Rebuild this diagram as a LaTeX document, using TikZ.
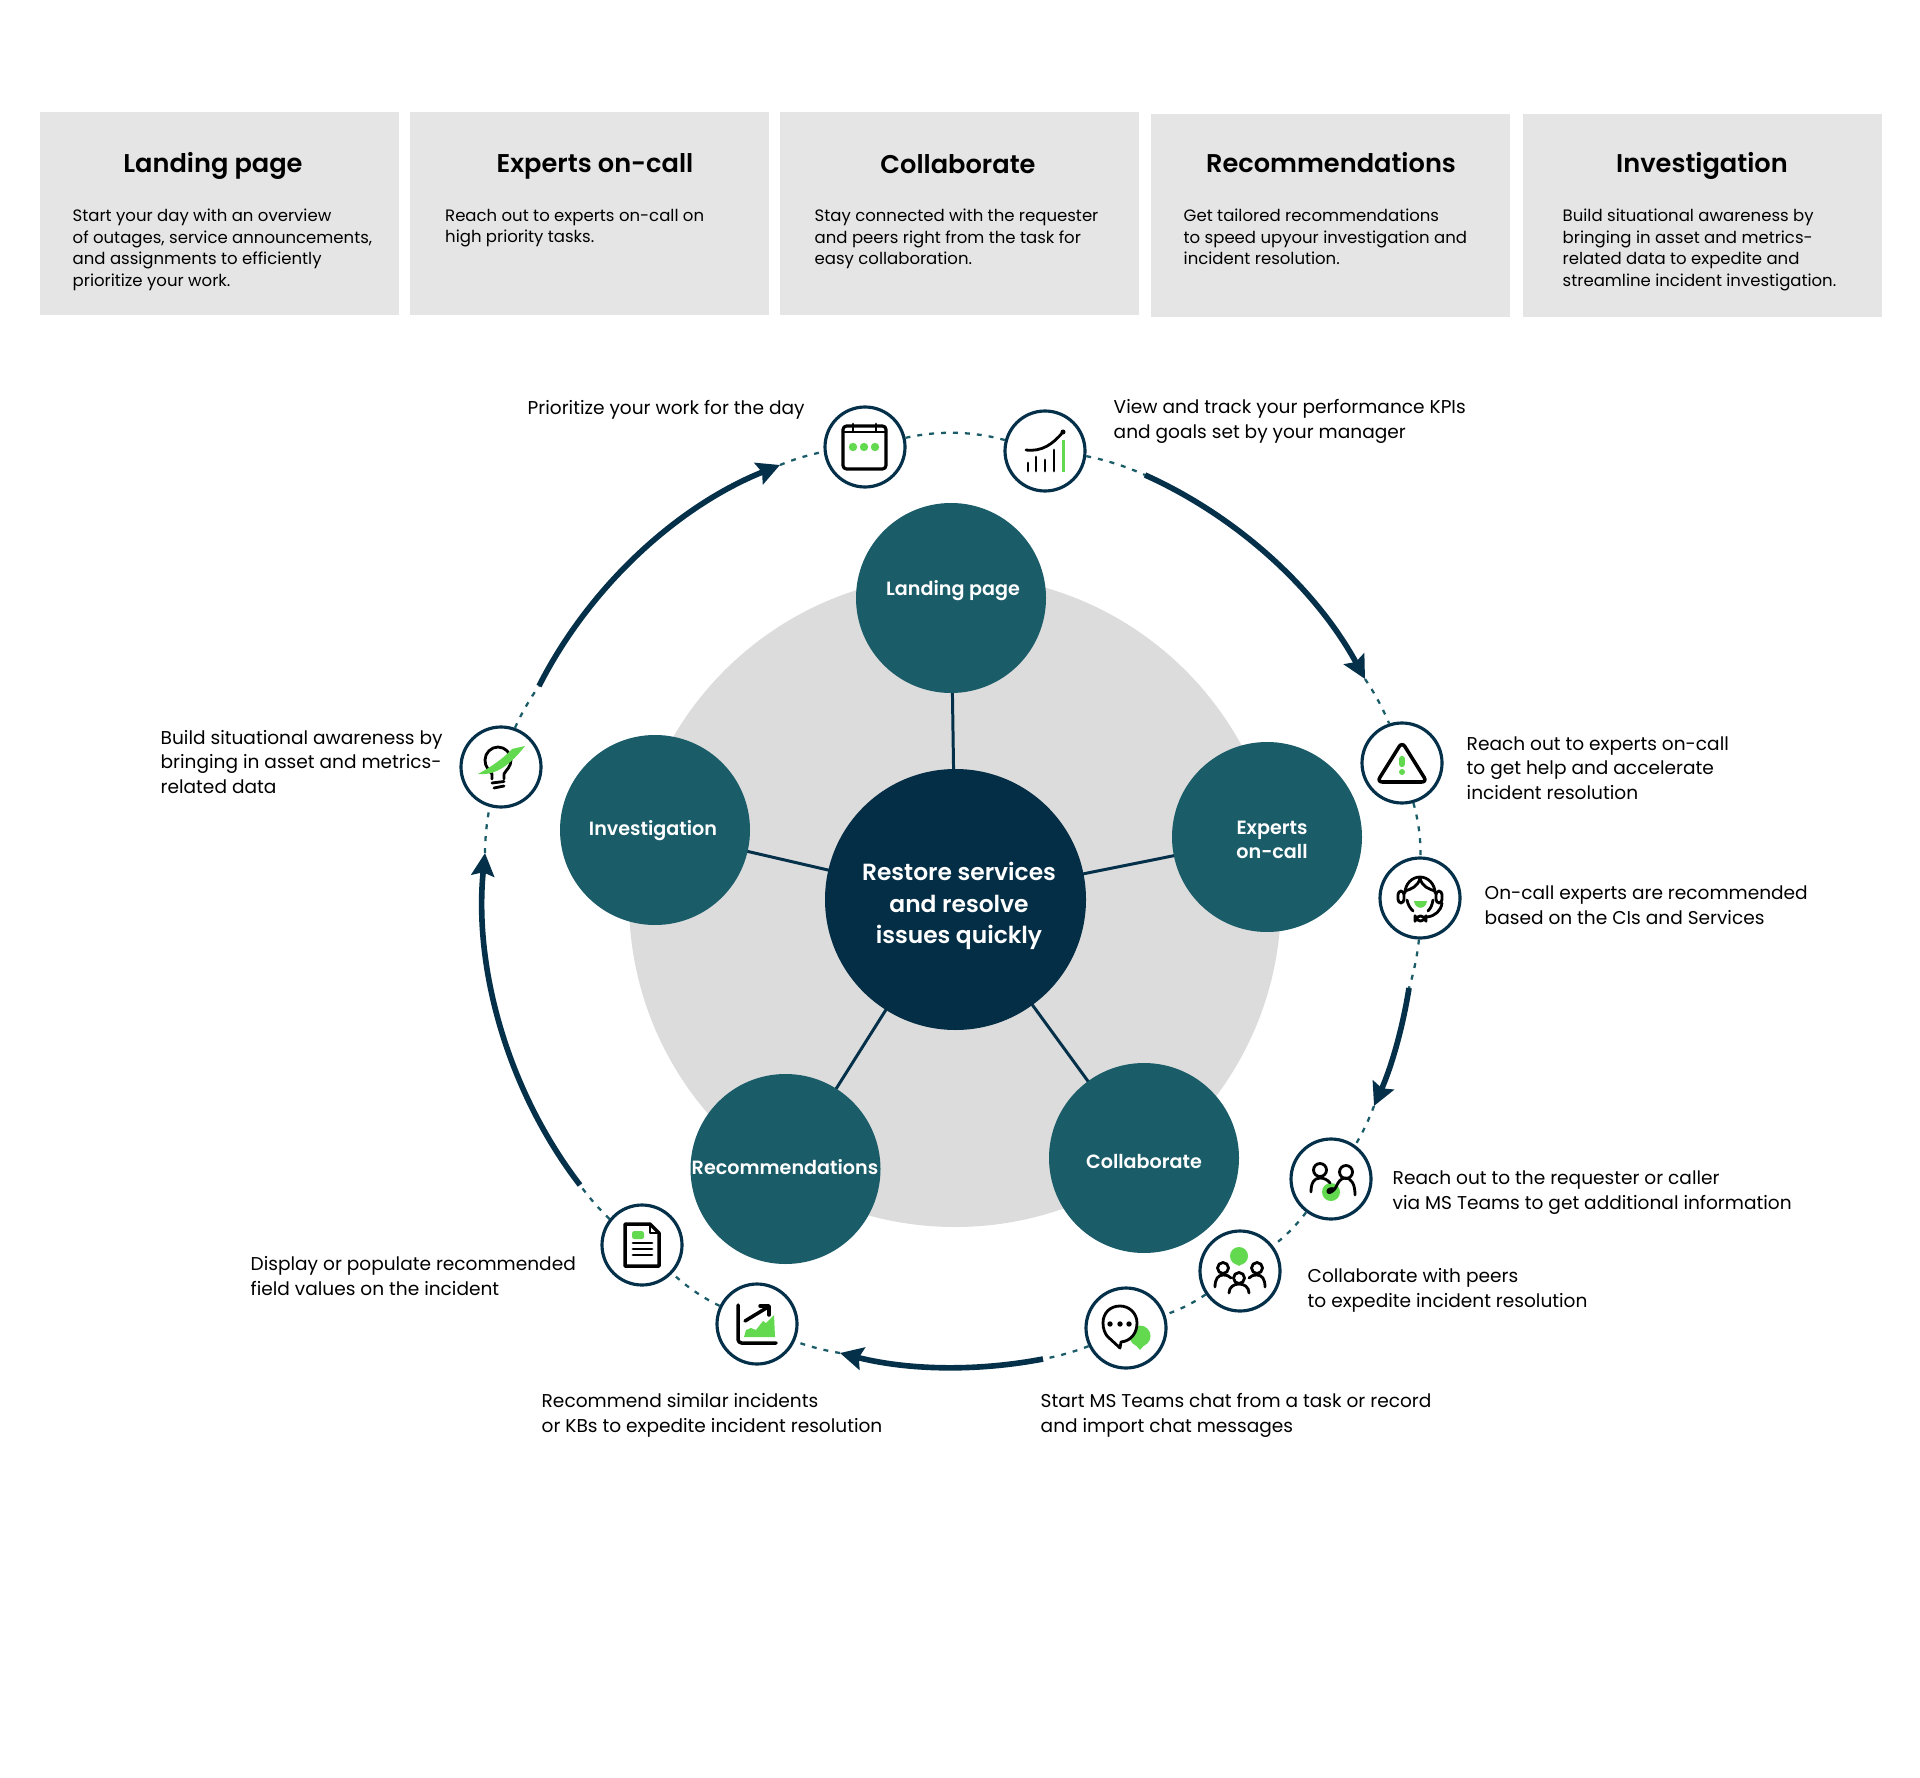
\documentclass[tikz,border=0pt]{standalone}
\usepackage{fontspec}
\setmainfont{Poppins}[BoldFont={Poppins SemiBold}]
\usetikzlibrary{arrows.meta,backgrounds}

\definecolor{hubblue}{HTML}{042E45}
\definecolor{topicteal}{HTML}{1B5C69}
\definecolor{iconink}{HTML}{04304A}
\definecolor{leaf}{HTML}{62D94F}
\definecolor{cardgrey}{HTML}{E5E5E5}
\definecolor{discgrey}{HTML}{DCDCDC}

\tikzset{
    card/.style={fill=cardgrey, anchor=north west, minimum width=3.59cm, minimum height=2.03cm, inner sep=0},
    cardtitle/.style={font=\fontsize{7.3}{9}\selectfont\bfseries, anchor=base, inner sep=0},
    cardtext/.style={font=\fontsize{4.7}{6.1}\selectfont, align=left, anchor=north west, inner sep=0},
    topic/.style={circle, fill=topicteal, minimum size=1.9cm, inner sep=0},
    topictext/.style={text=white, font=\fontsize{5.45}{7}\selectfont\bfseries, align=center, inner sep=0},
    badge/.style={circle, draw=iconink, line width=0.9pt, fill=white, minimum size=0.8cm, inner sep=0},
    note/.style={font=\fontsize{5.28}{6.97}\selectfont, align=left, anchor=west, inner sep=0},
    spoke/.style={draw=iconink, line width=0.85pt},
    link/.style={draw=topicteal, line width=0.65pt, dash pattern=on 1.4pt off 2pt, looseness=0.87},
    flow/.style={draw=iconink, line width=1.6pt, looseness=0.87, -{Stealth[length=6.5pt,width=6.5pt,inset=1pt]}},
    iconpx/.style={x=0.1mm, y=-0.1mm},
    ink/.style={draw=black, line width=0.8pt, line cap=round, line join=round},
}

\begin{document}
\begin{tikzpicture}
    \useasboundingbox (0,0) rectangle (19.2,17.77);

    % Cards
    \node[card] (cardlanding) at (0.39,16.66) {};
    \node[card] (cardexperts) at (4.09,16.66) {};
    \node[card] (cardcollab) at (7.79,16.66) {};
    \node[card] (cardrecs) at (11.50,16.64) {};
    \node[card] (cardinvest) at (15.22,16.64) {};

    \node[cardtitle] (titlelanding) at (2.13,16.04) {Landing page};
    \node[cardtitle] (titleexperts) at (5.95,16.04) {Experts on-call};
    \node[cardtitle] (titlecollab) at (9.58,16.03) {Collaborate};
    \node[cardtitle] (titlerecs) at (13.31,16.04) {Recommendations};
    \node[cardtitle] (titleinvest) at (17.02,16.04) {Investigation};

    \node[cardtext] (textlanding) at (0.72,15.685) {Start your day with an overview\\of outages, service announcements,\\and assignments to efficiently\\prioritize your work.};
    \node[cardtext] (textexperts) at (4.445,15.685) {Reach out to experts on-call on\\high priority tasks.};
    \node[cardtext] (textcollab) at (8.14,15.685) {Stay connected with the requester\\and peers right from the task for\\easy collaboration.};
    \node[cardtext] (textrecs) at (11.83,15.685) {Get tailored recommendations\\to speed upyour investigation and\\incident resolution.};
    \node[cardtext] (textinvest) at (15.62,15.685) {Build situational awareness by\\bringing in asset and metrics-\\related data to expedite and\\streamline incident investigation.};

    % Centre
    \node[circle, fill=hubblue, minimum size=2.61cm, inner sep=0] (hub) at (9.555,8.775) {};
    \node[text=white, align=center, inner sep=0, font=\fontsize{6.65}{9}\selectfont\bfseries] (hubtext) at (9.59,8.71) {Restore services\\and resolve\\issues quickly};

    \node[topic] (landing) at (9.51,11.79) {};
    \node[topic] (experts) at (12.67,9.40) {};
    \node[topic] (collab) at (11.44,6.19) {};
    \node[topic] (recs) at (7.855,6.08) {};
    \node[topic] (invest) at (6.55,9.47) {};

    \node[topictext] (landingtext) at (9.53,11.86) {Landing page};
    \node[topictext] (expertstext) at (12.72,9.37) {Experts\\on-call};
    \node[topictext] (collabtext) at (11.44,6.16) {Collaborate};
    \node[topictext] (recstext) at (7.85,6.10) {Recommendations};
    \node[topictext] (investtext) at (6.53,9.46) {Investigation};

    \begin{scope}[on background layer]
        \fill[discgrey] (9.55,8.76) circle (3.26);
        \draw[spoke] (hub.center) -- (landing.center);
        \draw[spoke] (hub.center) -- (experts.center);
        \draw[spoke] (hub.center) -- (collab.center);
        \draw[spoke] (hub.center) -- (recs.center);
        \draw[spoke] (hub.center) -- (invest.center);
    \end{scope}

    % Ring
    \node[badge] (calendar) at (8.65,13.30) {};
    \node[badge] (chart) at (10.45,13.26) {};
    \node[badge] (warning) at (14.02,10.14) {};
    \node[badge] (headset) at (14.20,8.79) {};
    \node[badge] (handshake) at (13.31,5.98) {};
    \node[badge] (peers) at (12.40,5.06) {};
    \node[badge] (chat) at (11.26,4.49) {};
    \node[badge] (graph) at (7.57,4.53) {};
    \node[badge] (doc) at (6.42,5.32) {};
    \node[badge] (bulb) at (5.01,10.10) {};

    \coordinate (flowas) at (11.45,13.02);
    \coordinate (flowae) at (13.65,10.98);
    \coordinate (flowbs) at (14.09,7.89);
    \coordinate (flowbe) at (13.74,6.71);
    \coordinate (flowcs) at (10.43,4.18);
    \coordinate (flowce) at (8.40,4.24);
    \coordinate (flowds) at (5.80,5.92);
    \coordinate (flowde) at (4.85,9.24);
    \coordinate (flowes) at (5.39,10.91);
    \coordinate (flowee) at (7.80,13.12);

    \draw[link] (calendar) to[bend left=14] (chart);
    \draw[link] (chart) to[bend left=6.4] (flowas);
    \draw[link] (flowae) to[bend left=5.7] (warning);
    \draw[link] (warning) to[bend left=8.3] (headset);
    \draw[link] (headset) to[bend left=5.5] (flowbs);
    \draw[link] (flowbe) to[bend left=5.1] (handshake);
    \draw[link] (handshake) to[bend left=7.9] (peers);
    \draw[link] (peers) to[bend left=7.8] (chat);
    \draw[link] (chat) to[bend left=5.4] (flowcs);
    \draw[link] (flowce) to[bend left=5.3] (graph);
    \draw[link] (graph) to[bend left=8.6] (doc);
    \draw[link] (doc) to[bend left=5.3] (flowds);
    \draw[link] (flowde) to[bend left=5.3] (bulb);
    \draw[link] (bulb) to[bend left=5.5] (flowes);
    \draw[link] (flowee) to[bend left=5.4] (calendar);

    \draw[flow] (flowas) to[bend left=18.6] (flowae);
    \draw[flow] (flowbs) to[bend left=7.5] (flowbe);
    \draw[flow] (flowcs) to[bend left=12.5] (flowce);
    \draw[flow] (flowds) to[bend left=21.6] (flowde);
    \draw[flow] (flowes) to[bend left=20.6] (flowee);

    % Notes
    \node[note] (notecalendar) at (5.27,13.675) {Prioritize your work for the day};
    \node[note] (notechart) at (11.13,13.555) {View and track your performance KPIs\\and goals set by your manager};
    \node[note] (notewarning) at (14.66,10.09) {Reach out to experts on-call\\to get help and accelerate\\incident resolution};
    \node[note] (noteheadset) at (14.84,8.72) {On-call experts are recommended\\based on the CIs and Services};
    \node[note] (notehandshake) at (13.92,5.845) {Reach out to the requester or caller\\via MS Teams to get additional information};
    \node[note] (notepeers) at (13.07,4.865) {Collaborate with peers\\to expedite incident resolution};
    \node[note] (notechat) at (10.40,3.615) {Start MS Teams chat from a task or record\\and import chat messages};
    \node[note] (notegraph) at (5.41,3.615) {Recommend similar incidents\\or KBs to expedite incident resolution};
    \node[note] (notedoc) at (2.50,5.01) {Display or populate recommended\\field values on the incident};
    \node[note] (notebulb) at (1.60,10.15) {Build situational awareness by\\bringing in asset and metrics-\\related data};

    % Icons
    \begin{scope}[shift={(calendar)}, iconpx]
        \draw[ink, line width=0.9pt, rounded corners=1pt] (-22,-21) rectangle (21,22);
        \draw[ink] (-22,-15) -- (21,-15);
        \draw[ink] (-12,-23) -- (-12,-16);
        \draw[ink] (11,-23) -- (11,-16);
        \fill[leaf, rounded corners=1pt] (-16,-4) rectangle (-8,4);
        \fill[leaf, rounded corners=1pt] (-5,-4) rectangle (3,4);
        \fill[leaf, rounded corners=1pt] (6,-4) rectangle (14,4);
    \end{scope}

    \begin{scope}[shift={(chart)}, iconpx]
        \draw[ink] (-17,20) -- (-17,12);
        \draw[ink] (-9,20) -- (-9,6);
        \draw[ink] (0,20) -- (0,9);
        \draw[ink] (9,20) -- (9,-1);
        \fill[leaf] (16.5,-11) rectangle (19.5,21);
        \draw[ink] (-19,-1) .. controls (-3,1) and (8,-7) .. (18,-19);
        \fill[black] (18,-19) circle (2.5);
    \end{scope}

    \begin{scope}[shift={(warning)}, iconpx]
        \draw[ink, line width=1pt, rounded corners=1.5pt] (0,-21) -- (25,19) -- (-25,19) -- cycle;
        \draw[leaf, line width=1.8pt, line cap=round] (0,-4) -- (0,1);
        \fill[leaf] (0,9) circle (3);
    \end{scope}

    \begin{scope}[shift={(headset)}, iconpx]
        \draw[ink] (-15,-5) .. controls (-15,-14) and (-8,-21) .. (0,-21) .. controls (8,-21) and (15,-14) .. (15,-5);
        \draw[ink] (0,-20) .. controls (-2,-11) and (-9,-9) .. (-15,-7);
        \draw[ink] (0,-20) .. controls (2,-11) and (9,-9) .. (15,-7);
        \draw[ink] (-13,2) .. controls (-12,7) and (-10,10) .. (-7,13);
        \draw[ink] (13,2) .. controls (12,7) and (11,10) .. (8,13);
        \draw[ink, rounded corners=1pt] (-22,-7) rectangle (-16,5);
        \draw[ink, rounded corners=1pt] (16,-7) rectangle (22,5);
        \draw[ink] (22,5) .. controls (21,13) and (15,18) .. (7,19);
        \draw[ink, rounded corners=1.5pt] (-5,18) rectangle (6,23);
        \fill[leaf] (-6,3) .. controls (-5,12) and (6,12) .. (7,3) -- cycle;
    \end{scope}

    \begin{scope}[shift={(handshake)}, iconpx]
        \fill[leaf] (0,13) circle (9);
        \draw[ink] (-11,-9) circle (6.5);
        \draw[ink] (15,-7) circle (6.5);
        \draw[ink] (-20,13) .. controls (-20,4) and (-17,-1) .. (-11,-1) .. controls (-7,-1) and (-3,1) .. (-1,4);
        \draw[ink] (24,16) .. controls (24,6) and (21,-1) .. (14,-1) .. controls (10,-1) and (7,3) .. (5,8) .. controls (3,12) and (-2,15) .. (-3,13) .. controls (-4,10) and (0,9) .. (4,10);
    \end{scope}

    \begin{scope}[shift={(peers)}, iconpx]
        \fill[leaf] (-1,-15) circle (9);
        \fill[leaf] (-1,-5) -- (-6,-9) -- (4,-9) -- cycle;
        \draw[ink] (-17,-3) circle (5.5);
        \draw[ink] (17,-3) circle (5.5);
        \draw[ink] (-1,7) circle (5.5);
        \draw[ink] (-25,16) .. controls (-25,8) and (-22,4) .. (-17,4) .. controls (-13,4) and (-11,5) .. (-9,7);
        \draw[ink] (25,16) .. controls (25,8) and (22,4) .. (17,4) .. controls (13,4) and (11,5) .. (9,7);
        \draw[ink] (-11,22) .. controls (-11,16) and (-6,13) .. (-1,13) .. controls (4,13) and (9,16) .. (9,22);
    \end{scope}

    \begin{scope}[shift={(chat)}, iconpx]
        \fill[leaf] (14,8) circle (10.5);
        \fill[leaf] (14,22) -- (8,15) -- (20,15) -- cycle;
        \draw[ink, fill=white] (-6,20) -- (-5,14) .. controls (5,13) and (11,5) .. (11,-5) .. controls (11,-15) and (3,-22) .. (-6,-22) .. controls (-16,-22) and (-23,-15) .. (-23,-5) .. controls (-23,1) and (-21,5) .. (-19,8) -- cycle;
        \fill[black] (-16,-4) circle (2.7);
        \fill[black] (-6,-4) circle (2.7);
        \fill[black] (3,-4) circle (2.7);
    \end{scope}

    \begin{scope}[shift={(graph)}, iconpx]
        \fill[leaf] (-13,13) -- (-11,6) -- (-6,4) -- (-1,6) -- (6,-3) -- (9,-1) -- (17,-9) -- (18,13) -- cycle;
        \draw[ink, line width=1pt, rounded corners=1pt] (-19,-19) -- (-19,19) -- (19,19);
        \draw[ink, line width=1pt] (-12,-3) -- (11,-17);
        \draw[ink, line width=1pt] (3,-18) -- (12,-18) -- (12,-9);
    \end{scope}

    \begin{scope}[shift={(doc)}, iconpx]
        \draw[ink, line width=1pt] (-17,-21) -- (8,-21) -- (17,-12) -- (17,21) -- (-17,21) -- cycle;
        \draw[ink, line width=0.5pt] (8,-21) -- (8,-12) -- (17,-12);
        \fill[leaf, rounded corners=0.5pt] (-10,-14) rectangle (2,-6);
        \draw[ink] (-9,-2) -- (10,-2);
        \draw[ink] (-9,4) -- (10,4);
        \draw[ink] (-9,10) -- (10,10);
    \end{scope}

    \begin{scope}[shift={(bulb)}, iconpx]
        \draw[ink] (-9,12) -- (-9,7) .. controls (-12,3) and (-16,0) .. (-16,-7) .. controls (-16,-14) and (-10,-20) .. (-3,-20) .. controls (4,-20) and (10,-14) .. (10,-7) .. controls (10,0) and (5,3) .. (3,7) -- (3,12);
        \draw[ink] (-9,16) -- (3,14.5);
        \draw[ink] (-7,21) -- (3,19);
        \fill[leaf] (-23,7) .. controls (-5,9) and (10,-3) .. (24,-21) -- (11,-18) .. controls (3,-9) and (-10,0) .. cycle;
    \end{scope}
\end{tikzpicture}
\end{document}
